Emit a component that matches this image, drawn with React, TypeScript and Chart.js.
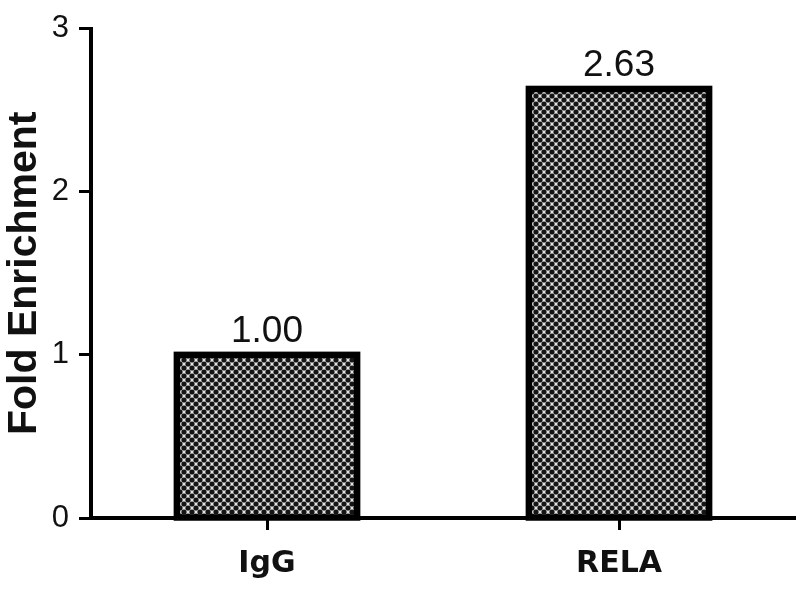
import React, { useEffect, useRef } from "react";
import { Chart, registerables } from "chart.js";

Chart.register(...registerables);

const categories = ["IgG", "RELA"];
const foldValues = [1.0, 2.63];
const valueLabels = ["1.00", "2.63"];
const yTickValues = [0, 1, 2, 3];
const yTitle = "Fold Enrichment";

function makePattern(): CanvasPattern | string {
  const c = document.createElement("canvas");
  c.width = 8;
  c.height = 8;
  const g = c.getContext("2d");
  if (!g) return "#888";
  g.fillStyle = "#e2e2e2";
  g.fillRect(0, 0, 8, 8);
  g.fillStyle = "#141414";
  const pts = [
    [0, 0],
    [8, 0],
    [0, 8],
    [8, 8],
    [4, 4],
  ];
  for (const [x, y] of pts) {
    g.beginPath();
    g.arc(x, y, 2.6, 0, Math.PI * 2);
    g.fill();
  }
  const p = g.createPattern(c, "repeat");
  return p || "#888";
}

export default function App() {
  const ref = useRef<HTMLCanvasElement | null>(null);

  useEffect(() => {
    if (!ref.current) return;
    const pattern = makePattern();

    const barOutline = {
      id: "barOutline",
      afterDatasetsDraw(chart: any) {
        const ctx = chart.ctx;
        const meta = chart.getDatasetMeta(0);
        ctx.save();
        meta.data.forEach((bar: any, i: number) => {
          const p = bar.getProps(["x", "y", "base", "width"], true);
          const left = p.x - p.width / 2;
          ctx.lineWidth = 6.5;
          ctx.strokeStyle = "#000";
          ctx.lineJoin = "miter";
          ctx.strokeRect(left, p.y, p.width, p.base - p.y);
          ctx.fillStyle = "#111";
          ctx.font = "37px 'Liberation Sans', Arial, sans-serif";
          ctx.textAlign = "center";
          ctx.textBaseline = "alphabetic";
          ctx.fillText(valueLabels[i], p.x, p.y - 13);
        });
        ctx.restore();
      },
    };

    const chart = new Chart(ref.current, {
      type: "bar",
      data: {
        labels: categories,
        datasets: [
          {
            data: foldValues,
            backgroundColor: pattern as any,
            borderWidth: 0,
            categoryPercentage: 1,
            barPercentage: 0.512,
          },
        ],
      },
      options: {
        animation: false,
        responsive: false,
        maintainAspectRatio: false,
        layout: { padding: { top: 28, right: 5, bottom: 0, left: 0 } },
        plugins: {
          legend: { display: false },
          tooltip: { enabled: false },
        },
        scales: {
          x: {
            offset: true,
            grid: {
              offset: false,
              drawOnChartArea: false,
              drawTicks: true,
              tickLength: 12,
              tickWidth: 3,
              tickColor: "#000",
            },
            border: { display: true, color: "#000", width: 4 },
            ticks: {
              color: "#111",
              padding: 16,
              font: { family: "'DejaVu Sans', Verdana, sans-serif", size: 30, weight: "bold" },
            },
            afterFit(scale: any) {
              scale.height = 82;
            },
          },
          y: {
            min: 0,
            max: 3,
            afterBuildTicks(scale: any) {
              scale.ticks = yTickValues.map((v) => ({ value: v }));
            },
            grid: {
              drawOnChartArea: false,
              drawTicks: true,
              tickLength: 12,
              tickWidth: 3,
              tickColor: "#000",
            },
            border: { display: true, color: "#000", width: 4 },
            ticks: {
              color: "#111",
              padding: 10,
              font: { family: "'Liberation Sans', Arial, sans-serif", size: 31 },
            },
            title: {
              display: true,
              text: yTitle,
              color: "#111",
              padding: 0,
              font: { family: "'Liberation Sans', Arial, sans-serif", size: 41, weight: "bold" },
            },
            afterFit(scale: any) {
              scale.width = 91;
            },
          },
        },
      },
      plugins: [barOutline],
    });
    return () => chart.destroy();
  }, []);

  return (
    <div style={{ position: "fixed", left: 0, top: 0, width: 800, height: 600, background: "#fff" }}>
      <canvas ref={ref} width={800} height={600} style={{ display: "block", width: 800, height: 600 }} />
    </div>
  );
}
